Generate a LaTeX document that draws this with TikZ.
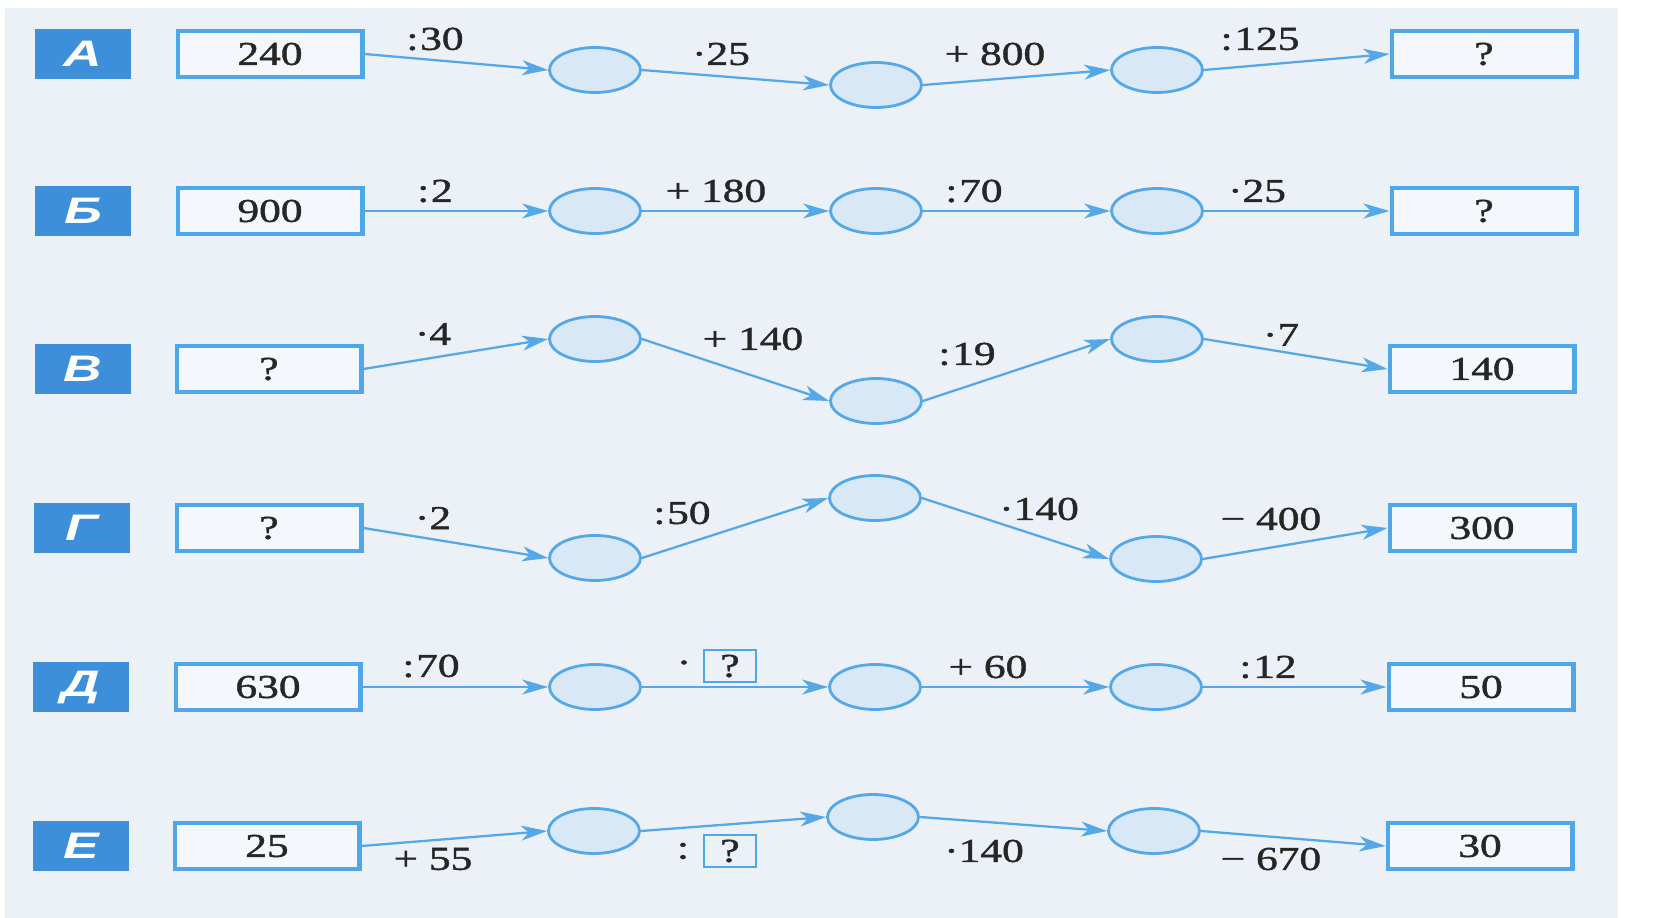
\documentclass[tikz,border=0pt]{standalone}
\usepackage{fontspec}
\setmainfont{Liberation Serif}[FakeStretch=1.3,FakeBold=1.3]
\newfontfamily\cyrlab{Liberation Sans}[FakeStretch=1.45]
\usetikzlibrary{arrows.meta,shapes.geometric}
\definecolor{paper}{HTML}{ECF1F8}
\definecolor{lineblue}{HTML}{55A8E8}
\definecolor{boxblue}{HTML}{4FA6E8}
\definecolor{labblue}{HTML}{3D8FDA}
\definecolor{circfill}{HTML}{D9E8F7}
\definecolor{ink}{HTML}{262626}
\tikzset{
	numbox/.style={draw=boxblue,line width=2.3pt,fill=white!40!paper,minimum width=3.7cm,minimum height=0.92cm,inner sep=0pt,text=ink},
	rowlab/.style={fill=labblue,minimum width=1.94cm,minimum height=1cm,inner sep=0pt,text=white,font=\cyrlab\fontsize{21}{23}\selectfont\bfseries\itshape},
	blank/.style={ellipse,draw=lineblue,line width=1.6pt,fill=circfill,minimum width=1.82cm,minimum height=0.9cm,inner sep=0pt},
	qbox/.style={draw=boxblue,line width=1.6pt,minimum width=1.04cm,minimum height=0.64cm,inner sep=0pt,text=ink},
	op/.style={text=ink,inner sep=0pt},
	flow/.style={lineblue,line width=1.3pt,-{Stealth[length=0.52cm,width=0.3cm,inset=0.15cm]}}
}

\begin{document}
\begin{tikzpicture}[x=0.02cm,y=-0.02cm,font=\fontsize{19}{22}\selectfont]
	\useasboundingbox (0,0) rectangle (1663,918);
	\fill[white] (0,0) rectangle (1663,918);
	\fill[paper] (5,8) rectangle (1618,918);
	% row A
	\node[rowlab] (labA) at (83,54) {А};
	\node[numbox] (inA) at (270,54) {240};
	\node[blank] (a1) at (595,70) {};
	\node[blank] (a2) at (876,85) {};
	\node[blank] (a3) at (1157,70) {};
	\node[numbox] (outA) at (1484,54) {?};
	\draw[flow] (inA.east) -- (a1.west);
	\draw[flow] (a1.east) -- (a2.west);
	\draw[flow] (a2.east) -- (a3.west);
	\draw[flow] (a3.east) -- (outA.west);
	\node[op] (opA1) at (435,39) {:\kern1pt30};
	\node[op] (opA2) at (721,54) {·25};
	\node[op] (opA3) at (995,54) {+ 800};
	\node[op] (opA4) at (1260,39) {:\kern1pt125};
	% row B
	\node[rowlab] (labB) at (83,211) {Б};
	\node[numbox] (inB) at (270,211) {900};
	\node[blank] (b1) at (595,211) {};
	\node[blank] (b2) at (876,211) {};
	\node[blank] (b3) at (1157,211) {};
	\node[numbox] (outB) at (1484,211) {?};
	\draw[flow] (inB.east) -- (b1.west);
	\draw[flow] (b1.east) -- (b2.west);
	\draw[flow] (b2.east) -- (b3.west);
	\draw[flow] (b3.east) -- (outB.west);
	\node[op] (opB1) at (435,191) {:\kern1pt2};
	\node[op] (opB2) at (716,191) {+ 180};
	\node[op] (opB3) at (974,191) {:\kern1pt70};
	\node[op] (opB4) at (1257,191) {·25};
	% row V
	\node[rowlab] (labV) at (83,369) {В};
	\node[numbox] (inV) at (269,369) {?};
	\node[blank] (v1) at (595,339) {};
	\node[blank] (v2) at (876,401) {};
	\node[blank] (v3) at (1157,339) {};
	\node[numbox] (outV) at (1482,369) {140};
	\draw[flow] (inV.east) -- (v1.west);
	\draw[flow] (v1.east) -- (v2.west);
	\draw[flow] (v2.east) -- (v3.west);
	\draw[flow] (v3.east) -- (outV.west);
	\node[op] (opV1) at (433,334) {·4};
	\node[op] (opV2) at (753,339) {+ 140};
	\node[op] (opV3) at (967,354) {:\kern1pt19};
	\node[op] (opV4) at (1281,335) {·7};
	% row G
	\node[rowlab] (labG) at (82,528) {Г};
	\node[numbox] (inG) at (269,528) {?};
	\node[blank] (g1) at (595,558) {};
	\node[blank] (g2) at (875,498) {};
	\node[blank] (g3) at (1156,559) {};
	\node[numbox] (outG) at (1482,528) {300};
	\draw[flow] (inG.east) -- (g1.west);
	\draw[flow] (g1.east) -- (g2.west);
	\draw[flow] (g2.east) -- (g3.west);
	\draw[flow] (g3.east) -- (outG.west);
	\node[op] (opG1) at (433,518) {·2};
	\node[op] (opG2) at (682,513) {:\kern1pt50};
	\node[op] (opG3) at (1039,509) {·140};
	\node[op] (opG4) at (1271,519) {− 400};
	% row D
	\node[rowlab] (labD) at (81,687) {Д};
	\node[numbox] (inD) at (268,687) {630};
	\node[blank] (d1) at (595,687) {};
	\node[blank] (d2) at (875,687) {};
	\node[blank] (d3) at (1156,687) {};
	\node[numbox] (outD) at (1481,687) {50};
	\draw[flow] (inD.east) -- (d1.west);
	\draw[flow] (d1.east) -- (d2.west);
	\draw[flow] (d2.east) -- (d3.west);
	\draw[flow] (d3.east) -- (outD.west);
	\node[op] (opD1) at (431,666) {:\kern1pt70};
	\node[op] (opD2) at (684,667) {·};
	\node[qbox] (qD) at (730,666) {?};
	\node[op] (opD3) at (988,667) {+ 60};
	\node[op] (opD4) at (1268,667) {:\kern1pt12};
	% row E
	\node[rowlab] (labE) at (81,846) {Е};
	\node[numbox] (inE) at (267,846) {25};
	\node[blank] (e1) at (594,831) {};
	\node[blank] (e2) at (873,817) {};
	\node[blank] (e3) at (1154,831) {};
	\node[numbox] (outE) at (1480,846) {30};
	\draw[flow] (inE.east) -- (e1.west);
	\draw[flow] (e1.east) -- (e2.west);
	\draw[flow] (e2.east) -- (e3.west);
	\draw[flow] (e3.east) -- (outE.west);
	\node[op] (opE1) at (433,859) {+ 55};
	\node[op] (opE2) at (683,851) {:};
	\node[qbox] (qE) at (730,851) {?};
	\node[op] (opE3) at (984,851) {·140};
	\node[op] (opE4) at (1271,859) {− 670};
\end{tikzpicture}
\end{document}
